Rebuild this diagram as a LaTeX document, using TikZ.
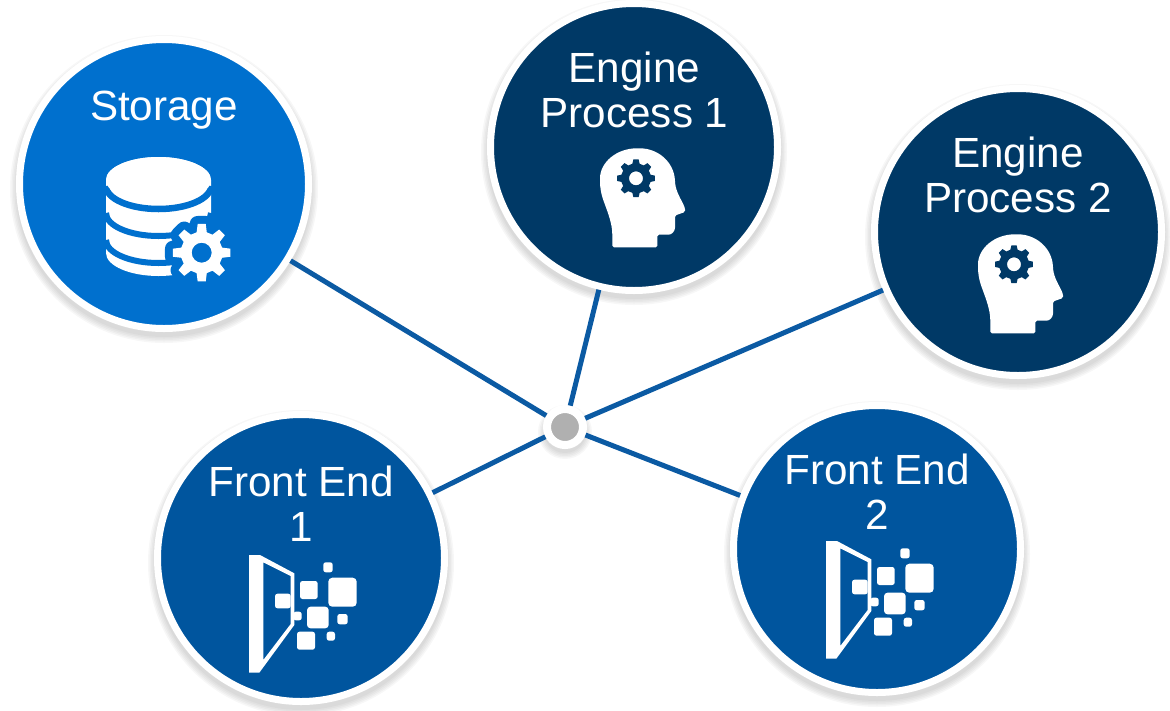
\documentclass[tikz,border=0pt]{standalone}
\usepackage{fontspec}
\setmainfont{Liberation Sans}
\definecolor{stblue}{HTML}{0070CE}
\definecolor{enblue}{HTML}{003966}
\definecolor{feblue}{HTML}{00559E}
\definecolor{linkblue}{HTML}{0B5AA3}
\definecolor{hubgray}{HTML}{B0B0B0}
\tikzset{
  disc/.style={circle,draw=white,line width=7pt,minimum size=#1,inner sep=0pt},
  label text/.style={text=white,align=center,inner sep=0pt,font=\fontsize{42.2}{45}\selectfont},
  link/.style={draw=linkblue,line width=5pt},
  hubnode/.style={circle,fill=hubgray,draw=white,line width=8pt,minimum size=36pt,inner sep=0pt},
  chip/.style={fill=white,rounded corners=2.5pt}
}
% x, y, radius
\newcommand{\softshadow}[3]{%
  \foreach \d in {6,4.5,3,1.5,0}{
    \fill[black,opacity=0.03] (#1,#2+5) circle[radius=#3+\d];
  }}
% gear outline as a path: cx, cy, R, r, options
\newcommand{\gearhalo}[6]{%
  \filldraw[#6,line width=#5,line join=round,shift={(#1,#2)}] (-14:#4)
    \foreach \a in {0,45,...,315}{ -- (\a-14:#4) -- (\a-8:#3) -- (\a+8:#3) -- (\a+14:#4)} -- cycle;}
% cx, cy, R, r, hole, colour
\newcommand{\gearshape}[6]{%
  \fill[#6,even odd rule,shift={(#1,#2)}] (-14:#4)
    \foreach \a in {0,45,...,315}{ -- (\a-14:#4) -- (\a-8:#3) -- (\a+8:#3) -- (\a+14:#4)} -- cycle
    (0,0) circle[radius=#5];}
\newcommand{\headicon}[2]{%
  \begin{scope}[shift={(#1,#2)}]
    \fill[white,rounded corners=1.5pt] (612.3,247.3) -- (612.3,236)
      .. controls (612.3,224) and (608,213) .. (604,202)
      .. controls (601,194) and (600,187) .. (600,180)
      .. controls (600,162) and (617,148.3) .. (638.3,148.3)
      .. controls (658,148.3) and (674,162) .. (675,181.7)
      .. controls (676,192) and (681,199) .. (685,208) -- (685,212)
      -- (675,215.5) -- (675,226)
      .. controls (675,231) and (672,234.7) .. (667,234.7)
      -- (657.3,234.7) -- (657.3,247.3) -- cycle;
    \gearshape{636}{178.3}{19}{15}{7}{enblue}
  \end{scope}}
\newcommand{\doorchip}[4]{\fill[chip] (#1,#2) rectangle (#3,#4);}
\newcommand{\dooricon}[2]{%
  \begin{scope}[shift={(#1,#2)}]
    \fill[white,even odd rule] (249,555) -- (260,555) -- (294.3,573.3) -- (294.3,625) -- (259.3,672.7) -- (249,672.7) -- cycle
      (263.3,562.3) -- (290.7,576) -- (290.7,624) -- (263.3,660) -- cycle;
    \doorchip{323.3}{562.3}{332.7}{572.3}
    \doorchip{300}{581}{317.7}{599}
    \fill[white,rounded corners=4pt] (328.3,577.7) rectangle (356.7,606.7);
    \doorchip{275}{593.7}{290.7}{608.3}
    \doorchip{293.3}{611.7}{301.7}{620.3}
    \fill[white,rounded corners=3.5pt] (307,606.7) rectangle (328.7,628.3);
    \doorchip{337.3}{614}{347.7}{624.3}
    \doorchip{326.7}{631.7}{335}{640.7}
    \doorchip{297}{631.7}{315}{649.7}
  \end{scope}}
\begin{document}
\begin{tikzpicture}[x=1pt,y=-1pt]
  \useasboundingbox (0,0) rectangle (1170,710);
  \softshadow{164}{184}{148}
  \softshadow{634}{147}{147}
  \softshadow{1018}{232}{147}
  \softshadow{301}{558}{147}
  \softshadow{877}{549}{147}
  \softshadow{565}{427}{21}

  \node[hubnode] (hub) at (565,427) {};
  \node[disc=289pt,fill=stblue] (st) at (164,184) {};
  \node[disc=287pt,fill=enblue] (en1) at (634,147) {};
  \node[disc=287pt,fill=enblue] (en2) at (1018,232) {};
  \node[disc=287pt,fill=feblue] (fe1) at (301,558) {};
  \node[disc=287pt,fill=feblue] (fe2) at (877,549) {};

  \draw[link] (st) -- (hub);
  \draw[link] (en1) -- (hub);
  \draw[link] (en2) -- (hub);
  \draw[link] (fe1) -- (hub);
  \draw[link] (fe2) -- (hub);

  \node[label text] (stl) at (164,110) {Storage};
  \node[label text] (en1l) at (634.5,89.7) {Engine\\Process 1};
  \node[label text] (en2l) at (1018,174.7) {Engine\\Process 2};
  \node[label text] (fe1l) at (301,503.5) {Front End\\1};
  \node[label text] (fe2l) at (877,491.5) {Front End\\2};

  % database icon
  \fill[white] (106,180) arc[start angle=180,end angle=0,x radius=52.5pt,y radius=23pt]
    -- (211,253) arc[start angle=0,end angle=-180,x radius=52.5pt,y radius=23pt] -- cycle;
  \draw[stblue,line width=6.5pt] (106,186) arc[start angle=180,end angle=360,x radius=52.5pt,y radius=23pt];
  \draw[stblue,line width=6pt] (106,213) arc[start angle=180,end angle=360,x radius=52.5pt,y radius=23pt];
  \draw[stblue,line width=6pt] (106,240) arc[start angle=180,end angle=360,x radius=52.5pt,y radius=23pt];
  \fill[white] (158.5,180) ellipse[x radius=52.5pt,y radius=23pt];
  \gearhalo{201.7}{252.7}{29}{22}{16pt}{stblue}
  \gearshape{201.7}{252.7}{29}{21}{10}{white}

  \headicon{0}{0}
  \headicon{378}{86}
  \dooricon{0}{0}
  \dooricon{577}{-14}
\end{tikzpicture}
\end{document}
